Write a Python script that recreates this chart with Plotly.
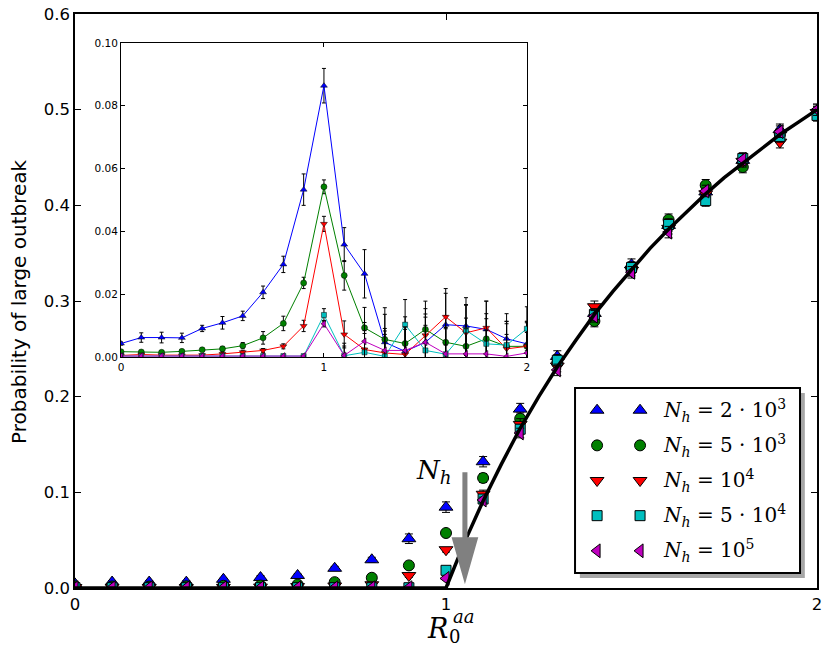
import plotly.graph_objects as go

# ---------------- data ----------------
r0 = [0.0, 0.1, 0.2, 0.3, 0.4, 0.5, 0.6, 0.7, 0.8, 0.9, 1.0,
      1.1, 1.2, 1.3, 1.4, 1.5, 1.6, 1.7, 1.8, 1.9, 2.0]

series_names = ["N_h = 2·10^3", "N_h = 5·10^3", "N_h = 10^4", "N_h = 5·10^4", "N_h = 10^5"]
legend_labels = ["<i>N</i><sub><i>h</i></sub> = 2 · 10<sup>3</sup>",
                 "<i>N</i><sub><i>h</i></sub> = 5 · 10<sup>3</sup>",
                 "<i>N</i><sub><i>h</i></sub> = 10<sup>4</sup>",
                 "<i>N</i><sub><i>h</i></sub> = 5 · 10<sup>4</sup>",
                 "<i>N</i><sub><i>h</i></sub> = 10<sup>5</sup>"]

# main panel: probability of large outbreak
main_blue = [0.0043, 0.0062, 0.0062, 0.0061, 0.0091, 0.0109, 0.0131, 0.0206, 0.0295, 0.0515, 0.0845,
             0.132, 0.187, 0.242, 0.287, 0.338, 0.379, 0.414, 0.447, 0.479, 0.499]
main_green = [0.0017, 0.0016, 0.0015, 0.0018, 0.0023, 0.0026, 0.0036, 0.0061, 0.0107, 0.0236, 0.0575,
              0.115, 0.177, 0.235, 0.279, 0.333, 0.385, 0.421, 0.440, 0.474, 0.497]
main_red = [0.0005, 0.0008, 0.0006, 0.0005, 0.0006, 0.0010, 0.0015, 0.0021, 0.0034, 0.0130, 0.0400,
            0.098, 0.171, 0.232, 0.294, 0.332, 0.376, 0.412, 0.446, 0.466, 0.497]
main_cyan = [0.0003, 0.0003, 0.0003, 0.0003, 0.0003, 0.0003, 0.0003, 0.0003, 0.0003, 0.0003, 0.0185,
             0.093, 0.166, 0.238, 0.286, 0.335, 0.380, 0.405, 0.449, 0.472, 0.494]
main_magenta = [0.0003, 0.0003, 0.0003, 0.0003, 0.0003, 0.0003, 0.0003, 0.0003, 0.0003, 0.0003, 0.0100,
                0.092, 0.162, 0.228, 0.284, 0.330, 0.372, 0.415, 0.448, 0.477, 0.500]

main_err_blue = [0.0005, 0.0015, 0.0017, 0.0015, 0.0010, 0.0020, 0.0015, 0.0020, 0.0026, 0.0050, 0.0055,
                 0.0054, 0.0060, 0.0060, 0.0060, 0.0060, 0.0060, 0.0060, 0.0060, 0.0060, 0.0060]
main_err_green = [0.0005, 0.0005, 0.0005, 0.0005, 0.0005, 0.0008, 0.0010, 0.0020, 0.0023, 0.0018, 0.0022,
                  0.0047, 0.0060, 0.0060, 0.0060, 0.0060, 0.0060, 0.0060, 0.0060, 0.0060, 0.0060]
main_err_red = [0.0003, 0.0003, 0.0003, 0.0003, 0.0003, 0.0004, 0.0005, 0.0006, 0.0008, 0.0018, 0.0024,
                0.0043, 0.0060, 0.0060, 0.0060, 0.0060, 0.0060, 0.0060, 0.0060, 0.0060, 0.0060]
main_err_cyan = [0.0, 0.0, 0.0, 0.0, 0.0, 0.0, 0.0, 0.0, 0.0, 0.0, 0.0020,
                 0.0030, 0.0050, 0.0060, 0.0060, 0.0060, 0.0060, 0.0060, 0.0060, 0.0060, 0.0060]
main_err_magenta = [0.0, 0.0, 0.0, 0.0, 0.0, 0.0, 0.0, 0.0, 0.0, 0.0, 0.0010,
                    0.0030, 0.0050, 0.0060, 0.0060, 0.0060, 0.0060, 0.0060, 0.0060, 0.0060, 0.0060]

# theory curve
theory_x = [0.0, 1.0, 1.05, 1.1, 1.15, 1.2, 1.25, 1.3, 1.35, 1.4, 1.45, 1.5,
            1.55, 1.6, 1.65, 1.7, 1.75, 1.8, 1.85, 1.9, 1.95, 2.0]
theory_y = [0.0, 0.0, 0.048, 0.091, 0.130, 0.167, 0.200, 0.231, 0.259, 0.286, 0.310, 0.333,
            0.355, 0.375, 0.394, 0.412, 0.429, 0.444, 0.459, 0.474, 0.487, 0.500]

# inset panel
inset_blue = [0.0043, 0.0062, 0.0062, 0.0061, 0.0091, 0.0109, 0.0131, 0.0206, 0.0295, 0.0533, 0.0864,
              0.0358, 0.0265, 0.0047, 0.0018, 0.0047, 0.0103, 0.0099, 0.0088, 0.0058, 0.0042]
inset_green = [0.0017, 0.0016, 0.0015, 0.0018, 0.0023, 0.0026, 0.0036, 0.0061, 0.0107, 0.0236, 0.0542,
               0.0260, 0.0093, 0.0056, 0.0043, 0.0088, 0.0047, 0.0034, 0.0058, 0.0034, 0.0034]
inset_red = [0.0005, 0.0008, 0.0006, 0.0005, 0.0006, 0.0010, 0.0015, 0.0021, 0.0034, 0.0099, 0.0424,
             0.0072, 0.0024, 0.0013, 0.0008, 0.0069, 0.0128, 0.0077, 0.0093, 0.0026, 0.0034]
inset_cyan = [0.0003, 0.0003, 0.0003, 0.0003, 0.0003, 0.0003, 0.0003, 0.0003, 0.0003, 0.0003, 0.0134,
              0.0004, 0.0015, 0.0002, 0.0103, 0.0021, 0.0009, 0.0085, 0.0042, 0.0038, 0.0090]
inset_magenta = [0.0003, 0.0003, 0.0003, 0.0003, 0.0003, 0.0003, 0.0003, 0.0003, 0.0003, 0.0003, 0.0106,
                 0.0005, 0.0050, 0.0021, 0.0021, 0.0047, 0.0010, 0.0010, 0.0010, 0.0002, 0.0013]

inset_err_blue = [0.0005, 0.0015, 0.0017, 0.0015, 0.0010, 0.0020, 0.0015, 0.0020, 0.0026, 0.0050, 0.0055,
                  0.0054, 0.0077, 0.0110, 0.0090, 0.0090, 0.0100, 0.0090, 0.0090, 0.0080, 0.0070]
inset_err_green = [0.0005, 0.0005, 0.0005, 0.0005, 0.0005, 0.0008, 0.0010, 0.0020, 0.0023, 0.0018, 0.0022,
                   0.0047, 0.0065, 0.0080, 0.0085, 0.0090, 0.0085, 0.0090, 0.0080, 0.0080, 0.0080]
inset_err_red = [0.0003, 0.0003, 0.0003, 0.0003, 0.0003, 0.0004, 0.0005, 0.0006, 0.0008, 0.0018, 0.0024,
                 0.0043, 0.0060, 0.0070, 0.0080, 0.0085, 0.0090, 0.0090, 0.0085, 0.0080, 0.0075]
inset_err_cyan = [0.0, 0.0, 0.0, 0.0, 0.0, 0.0, 0.0, 0.0, 0.0, 0.0, 0.0020,
                  0.0040, 0.0060, 0.0070, 0.0080, 0.0080, 0.0085, 0.0080, 0.0080, 0.0075, 0.0070]
inset_err_magenta = [0.0, 0.0, 0.0, 0.0, 0.0, 0.0, 0.0, 0.0, 0.0, 0.0, 0.0010,
                     0.0030, 0.0060, 0.0070, 0.0075, 0.0080, 0.0080, 0.0080, 0.0075, 0.0070, 0.0065]

# ---------------- styles ----------------
colors = ["#0000ff", "#008000", "#ff0000", "#00bfbf", "#bf00bf"]
symbols = ["triangle-up", "circle", "triangle-down", "square", "triangle-left"]
main_sizes = [12, 11, 12, 10, 12]
inset_sizes = [6, 6, 6, 5, 6]

main_vals = [main_blue, main_green, main_red, main_cyan, main_magenta]
main_errs = [main_err_blue, main_err_green, main_err_red, main_err_cyan, main_err_magenta]
inset_vals = [inset_blue, inset_green, inset_red, inset_cyan, inset_magenta]
inset_errs = [inset_err_blue, inset_err_green, inset_err_red, inset_err_cyan, inset_err_magenta]

fig = go.Figure()

# main panel markers
for i in range(5):
    fig.add_trace(go.Scatter(
        x=r0, y=main_vals[i], mode="markers", name=series_names[i],
        marker=dict(symbol=symbols[i], size=main_sizes[i], color=colors[i],
                    line=dict(color="black", width=1)),
        error_y=dict(type="data", array=main_errs[i], color="black", thickness=1, width=4),
        xaxis="x", yaxis="y", showlegend=False))

# theory curve
fig.add_trace(go.Scatter(x=theory_x, y=theory_y, mode="lines",
                         line=dict(color="black", width=3.5),
                         xaxis="x", yaxis="y", showlegend=False))

# inset
for i in range(5):
    fig.add_trace(go.Scatter(
        x=r0, y=inset_vals[i], mode="lines+markers", name=series_names[i],
        line=dict(color=colors[i], width=1),
        marker=dict(symbol=symbols[i], size=inset_sizes[i], color=colors[i],
                    line=dict(color="black", width=0.5)),
        error_y=dict(type="data", array=inset_errs[i], color="black", thickness=1, width=2),
        xaxis="x2", yaxis="y2", showlegend=False))

# custom legend (two sample markers per entry, like the original)
for i in range(5):
    row = 0.88 - i * 0.19
    fig.add_trace(go.Scatter(
        x=[0.098, 0.289], y=[row, row], mode="markers",
        marker=dict(symbol=symbols[i], size=main_sizes[i], color=colors[i],
                    line=dict(color="black", width=1)),
        xaxis="x3", yaxis="y3", showlegend=False, hoverinfo="skip"))

annotations = []
for i in range(5):
    row = 0.88 - i * 0.19
    annotations.append(dict(x=0.38, y=row, xref="x3", yref="y3", text=legend_labels[i],
                            showarrow=False, xanchor="left", yanchor="middle",
                            font=dict(family="DejaVu Serif", size=20, color="black")))

# arrow label N_h
annotations.append(dict(x=0.965, y=0.122, xref="x", yref="y",
                        text="<i>N</i><sub><i>h</i></sub>", showarrow=False,
                        xanchor="center", yanchor="middle",
                        font=dict(family="DejaVu Serif", size=26, color="black")))

# axis titles
annotations.append(dict(x=-0.0755, y=0.5, xref="paper", yref="paper",
                        text="Probability of large outbreak", textangle=-90, showarrow=False,
                        xanchor="center", yanchor="middle", borderpad=0,
                        font=dict(family="DejaVu Sans", size=20, color="black")))
annotations.append(dict(x=0.488, y=-0.0697, xref="paper", yref="paper", text="<i>R</i>",
                        showarrow=False, xanchor="center", yanchor="middle",
                        font=dict(family="DejaVu Serif", size=27, color="black")))
annotations.append(dict(x=0.511, y=-0.084, xref="paper", yref="paper", text="0",
                        showarrow=False, xanchor="center", yanchor="middle",
                        font=dict(family="DejaVu Serif", size=18, color="black")))
annotations.append(dict(x=0.524, y=-0.049, xref="paper", yref="paper", text="<i>aa</i>",
                        showarrow=False, xanchor="center", yanchor="middle",
                        font=dict(family="DejaVu Serif", size=18, color="black")))

# shapes: legend box with shadow, grey arrow
ax_x, top, tip, hb, sw, hw = 1.051, 0.121, 0.004, 0.053, 0.0068, 0.036
arrow_path = (f"M {ax_x-sw},{top} L {ax_x+sw},{top} L {ax_x+sw},{hb} L {ax_x+hw},{hb} "
              f"L {ax_x},{tip} L {ax_x-hw},{hb} L {ax_x-sw},{hb} Z")
lx0, lx1, ly0, ly1 = 0.6739, 0.9771, 0.0261, 0.3484
shapes = [
    dict(type="rect", xref="paper", yref="paper", x0=lx0 + 0.0065, x1=lx1 + 0.0065,
         y0=ly0 - 0.0085, y1=ly1 - 0.0085, fillcolor="rgba(0,0,0,0.35)",
         line=dict(width=0), layer="below"),
    dict(type="rect", xref="paper", yref="paper", x0=lx0, x1=lx1, y0=ly0, y1=ly1,
         fillcolor="white", line=dict(color="black", width=2), layer="below"),
    dict(type="path", xref="x", yref="y", path=arrow_path, fillcolor="#808080",
         line=dict(width=0), layer="above"),
]

tickfont_main = dict(family="DejaVu Sans", size=16.5, color="black")
tickfont_inset = dict(family="DejaVu Sans", size=10.5, color="black")

# the page body adds an 8 px offset, so the figure is 8 px smaller with shifted margins
fig.update_layout(
    width=823, height=642,
    margin=dict(l=67, r=14, t=6, b=62, autoexpand=False),
    paper_bgcolor="white", plot_bgcolor="rgba(0,0,0,0)",
    showlegend=False,
    xaxis=dict(domain=[0, 1], range=[0, 2], tickvals=[0, 1, 2], ticktext=["0", "1", "2"],
               ticks="inside", ticklen=6, tickwidth=1, tickcolor="black", automargin=False,
               ticklabeloverflow="allow",
               showline=True, linecolor="black", linewidth=1.5, mirror="allticks",
               showgrid=False, zeroline=False, tickfont=tickfont_main),
    yaxis=dict(domain=[0, 1], range=[0, 0.6], tickvals=[0, 0.1, 0.2, 0.3, 0.4, 0.5, 0.6],
               ticktext=["0.0", "0.1", "0.2", "0.3", "0.4", "0.5", "0.6"],
               ticks="inside", ticklen=6, tickwidth=1, tickcolor="black", automargin=False,
               ticklabeloverflow="allow",
               showline=True, linecolor="black", linewidth=1.5, mirror="allticks",
               showgrid=False, zeroline=False, tickfont=tickfont_main),
    xaxis2=dict(domain=[0.062, 0.609], anchor="y2", range=[0, 2], tickvals=[0, 1, 2],
                ticktext=["0", "1", "2"], ticks="inside", ticklen=4, tickwidth=1,
                tickcolor="black", showline=True, linecolor="black", linewidth=1, automargin=False,
                mirror="allticks", showgrid=False, zeroline=False, tickfont=tickfont_inset),
    yaxis2=dict(domain=[0.4024, 0.9495], anchor="x2", range=[0, 0.1],
                tickvals=[0, 0.02, 0.04, 0.06, 0.08, 0.1],
                ticktext=["0.00", "0.02", "0.04", "0.06", "0.08", "0.10"],
                ticks="inside", ticklen=4, tickwidth=1, tickcolor="black", automargin=False,
                showline=True, linecolor="black", linewidth=1, mirror="allticks",
                showgrid=False, zeroline=False, tickfont=tickfont_inset),
    xaxis3=dict(domain=[lx0, lx1], anchor="y3", range=[0, 1], visible=False, fixedrange=True),
    yaxis3=dict(domain=[ly0, ly1], anchor="x3", range=[0, 1], visible=False, fixedrange=True),
    annotations=annotations,
    shapes=shapes,
)

fig.write_html("out.html")
